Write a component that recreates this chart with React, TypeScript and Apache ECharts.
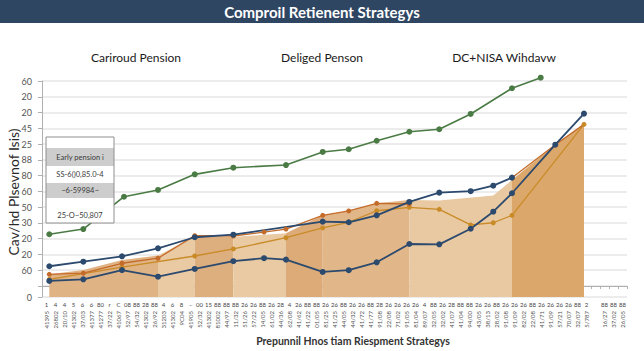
import React, { useEffect, useRef } from "react";
import * as echarts from "echarts";

const chartTitle = "Comproil Retienent Strategys";
const panelTitles = ["Cariroud Pension", "Deliged Penson", "DC+NISA Wihdavw"];
const yAxisName = "Cav/hd Plsevnof Isis)";
const xAxisName = "Prepunnil Hnos tiam Riespment Strategys";
const legendRows = ["Early pension i", "SS-6()0,85.0-4", "~6-59984~", "25-O~50,807"];

const yTickValues = [-7, 0, 10, 20, 30, 40, 50, 60, 70, 80, 90, 100, 110, 120, 130];
const yTickLabels = ["0", "", "60", "20", "20", "30", "50", "60", "80", "88", "25", "45", "20", "20", "60"];

const xTopLabels = [
  "1", "4", "4", "5", "6", "6", "80", "r", "C", "08", "88", "28", "88", "4", "6", "8",
  "–", "00", "15", "88", "88", "88", "26", "26", "88", "26", "28", "4", "26", "88", "88", "26",
  "26", "88", "26", "26", "88", "28", "26", "26", "26", "26", "4", "88", "26", "28", "88", "88",
  "26", "26", "88", "26", "26", "26", "88", "26", "26", "26", "26", "88", "2", "", "88", "88", "88",
];
const xRotLabels = [
  "41395", "26802", "20/10", "41302", "37/03", "41377", "41277", "37/22", "41067", "52/97",
  "54/32", "41302", "26/92", "31203", "41302", "9C04", "41905", "52/32", "41302", "81002",
  "44/97", "11/32", "51/26", "57/22", "14/05", "61/02", "44/36", "62/08", "41/62", "41/22",
  "01/05", "81/25", "41/25", "44/05", "44/32", "41/72", "41/77", "91/08", "22/08", "71/02",
  "91/05", "81/04", "89/07", "32/05", "32/02", "41/07", "41/04", "94/00", "43/05", "38/13",
  "28/02", "91/08", "91/09", "82/02", "22/08", "41/71", "91/09", "57/21", "70/07", "32/07",
  "5/787", "", "16/27", "37/02", "26/05",
];

// series values (x in category-position units, y in axis units)
const greenX = [0.81, 4.59, 9.11, 12.89, 16.97, 21.26, 27.11, 31.19, 34.08, 37.19, 40.81, 44.14, 47.63, 52.22, 55.41];
const greenY = [32.8, 36.1, 56.6, 60.9, 70.8, 75.0, 76.7, 85.0, 86.7, 92.1, 97.8, 99.4, 109.1, 125.4, 132.1];

const blueUpperX = [0.81, 4.59, 8.89, 12.89, 16.97, 21.26, 31.19, 34.08, 37.19, 40.81, 44.14, 47.63, 50.14, 52.22];
const blueUpperY = [12.5, 15.4, 18.8, 23.9, 30.9, 32.5, 40.8, 40.4, 44.8, 53.3, 59.2, 60.1, 63.6, 68.7];

const blueLowerX = [0.81, 4.59, 8.89, 12.89, 16.97, 21.26, 24.67, 27.11, 31.19, 34.08, 37.19, 40.81, 44.14, 47.63, 50.14, 52.22, 57.03, 60.22];
const blueLowerY = [3.2, 4.2, 10.1, 5.9, 10.8, 15.7, 17.6, 16.7, 8.9, 10.0, 15.0, 26.6, 26.4, 36.3, 47.1, 58.8, 89.6, 109.3];

const rustAX = [0.81, 4.59, 8.89, 12.89, 16.97, 21.26, 24.67, 27.11, 31.19, 34.08, 37.19, 40.81];
const rustAY = [7.4, 8.1, 14.4, 17.6, 31.9, 31.7, 34.2, 36.1, 44.8, 47.6, 52.4, 52.0];
const rustBX = [52.22, 57.03, 60.22];
const rustBY = [68.7, 89.6, 102.5];

const goldX = [0.81, 8.89, 16.97, 21.26, 27.11, 31.19, 34.08, 37.19, 40.81, 44.14, 47.63, 50.14, 52.22, 60.22];
const goldY = [4.2, 12.0, 19.0, 23.5, 30.6, 36.8, 40.4, 47.7, 49.9, 48.6, 38.7, 40.1, 44.8, 102.5];

const fillX = [0.81, 4.59, 8.89, 12.89, 16.97, 21.26, 27.11, 31.19, 34.08, 37.19, 40.81, 44.14, 50.14, 52.22, 57.03, 60.22];
const fillY = [7.4, 10.1, 16.5, 19.3, 31.4, 31.1, 33.4, 44.8, 47.6, 52.4, 54.5, 54.2, 57.4, 67.2, 89.6, 102.5];
const fillBandStart = [0, 3, 4, 5, 6, 7, 10, 13];
const fillBandEnd = [3, 4, 5, 6, 7, 10, 13, 15];
const fillBandShade = ["#e0b385", "#e9caa3", "#ddae7e", "#e9caa3", "#ddab78", "#e1b688", "#e9c9a1", "#dca76b"];

const N_CAT = xTopLabels.length;

const zip = (xs: number[], ys: number[]) => xs.map((x, i) => [x, ys[i]]);

export default function App() {
  const ref = useRef<HTMLDivElement>(null);
  useEffect(() => {
    document.body.style.margin = "0";
    if (!ref.current) return;
    const chart = echarts.init(ref.current, null, { renderer: "svg" });
    const font = "Lato, 'Open Sans', sans-serif";

    const fillSeries = fillBandStart.map((s, b) => ({
      type: "line",
      xAxisIndex: 2,
      data: zip(fillX, fillY).slice(s, fillBandEnd[b] + 1),
      symbol: "none",
      lineStyle: { width: 0, opacity: 0 },
      areaStyle: { color: fillBandShade[b], opacity: 1, origin: "start" },
      silent: true,
      z: 1,
    }));

    const lineSeries = (xs: number[], ys: number[], color: string, width: number, size: number) => ({
      type: "line",
      xAxisIndex: 2,
      data: zip(xs, ys),
      symbol: "circle",
      symbolSize: size,
      clip: false,
      lineStyle: { color, width },
      itemStyle: { color },
      z: 3,
    });

    const boxX = 46, boxY = 137, boxW = 68;
    const rowH = [11, 18, 17, 15, 25];
    const rowFill = ["#ffffff", "#cdcdcd", "#ffffff", "#cdcdcd", "#ffffff"];
    const rowText = ["", legendRows[0], legendRows[1], legendRows[2], legendRows[3]];
    const boxChildren: any[] = [];
    let yy = boxY;
    rowH.forEach((h, i) => {
      boxChildren.push({
        type: "rect",
        z: 50,
        shape: { x: boxX, y: yy, width: boxW, height: h },
        style: { fill: rowFill[i], stroke: null },
      });
      if (rowText[i]) {
        boxChildren.push({
          type: "text",
          z: 52,
          x: boxX + boxW / 2,
          y: i === 4 ? yy + 17 : yy + h / 2,
          style: {
            text: rowText[i], fill: "#3a3a3a", fontSize: 7.5, fontFamily: font,
            textAlign: "center", textVerticalAlign: "middle",
          },
        });
      }
      yy += h;
    });
    boxChildren.push({
      type: "rect",
      z: 51,
      shape: { x: boxX, y: boxY, width: boxW, height: yy - boxY },
      style: { fill: "none", stroke: "#8f8f8f", lineWidth: 1 },
    });

    chart.setOption({
      animation: false,
      backgroundColor: "#ffffff",
      textStyle: { fontFamily: font },
      grid: { left: 42, right: 17, top: 81, bottom: 54, outerBoundsMode: "none" },
      xAxis: [
        {
          type: "category",
          data: xTopLabels,
          position: "bottom",
          axisLine: { show: true, lineStyle: { color: "#b0b0b0" } },
          axisTick: { show: true, length: 3, lineStyle: { color: "#b0b0b0" } },
          axisLabel: { interval: 0, fontSize: 6, color: "#444", margin: 4 },
          splitLine: { show: false },
        },
        {
          type: "category",
          data: xRotLabels,
          position: "bottom",
          axisLine: { show: false },
          axisTick: { show: false },
          axisLabel: { interval: 0, rotate: 90, fontSize: 6, color: "#555", margin: 14 },
          splitLine: { show: false },
        },
        { type: "value", min: 0, max: N_CAT, show: false },
      ],
      yAxis: {
        type: "value",
        min: -7,
        max: 130,
        axisLine: { show: true, lineStyle: { color: "#b0b0b0" } },
        axisTick: { show: true, length: 4, customValues: yTickValues, lineStyle: { color: "#b0b0b0" } },
        axisLabel: {
          customValues: yTickValues,
          fontSize: 9,
          color: "#555",
          margin: 10,
          formatter: (v: number) => {
            const i = yTickValues.findIndex((t) => Math.abs(t - v) < 0.01);
            return i >= 0 ? yTickLabels[i] : "";
          },
        },
        splitLine: { show: true, lineStyle: { color: "#e6e6e6", width: 1.5 } },
      },
      series: [
        ...fillSeries,
        lineSeries(goldX, goldY, "#c98b27", 1.3, 5),
        lineSeries(rustAX, rustAY, "#c46b2a", 1.3, 5),
        lineSeries(rustBX, rustBY, "#c46b2a", 1.3, 0),
        lineSeries(blueLowerX, blueLowerY, "#2c4a6e", 1.8, 6),
        lineSeries(blueUpperX, blueUpperY, "#2c4a6e", 1.8, 6),
        lineSeries(greenX, greenY, "#4b7b45", 1.6, 6),
      ],
      graphic: [
        { type: "rect", shape: { x: 0, y: 0, width: 644, height: 23 }, style: { fill: "#2f4662" }, z: 10 },
        {
          type: "text", x: 322, y: 11.5, z: 11,
          style: { text: chartTitle, fill: "#ffffff", fontSize: 15, fontWeight: "bold", fontFamily: font, textAlign: "center", textVerticalAlign: "middle" },
        },
        ...[136, 322, 504].map((x, i) => ({
          type: "text", x, y: 57, z: 11,
          style: { text: panelTitles[i], fill: "#1a1a1a", fontSize: 12, fontFamily: font, textAlign: "center", textVerticalAlign: "middle" },
        })),
        {
          type: "text", x: 13, y: 192, rotation: Math.PI / 2, z: 11,
          style: { text: yAxisName, fill: "#2a2a2a", fontSize: 14, fontFamily: font, textAlign: "center", textVerticalAlign: "middle" },
        },
        {
          type: "text", x: 353, y: 341, z: 11,
          style: { text: xAxisName, fill: "#333", fontSize: 10.5, fontWeight: "bold", fontFamily: font, textAlign: "center", textVerticalAlign: "middle" },
        },
        { type: "group", z: 50, children: boxChildren },
      ],
    });
    return () => chart.dispose();
  }, []);
  return <div ref={ref} style={{ width: 644, height: 351 }} />;
}
